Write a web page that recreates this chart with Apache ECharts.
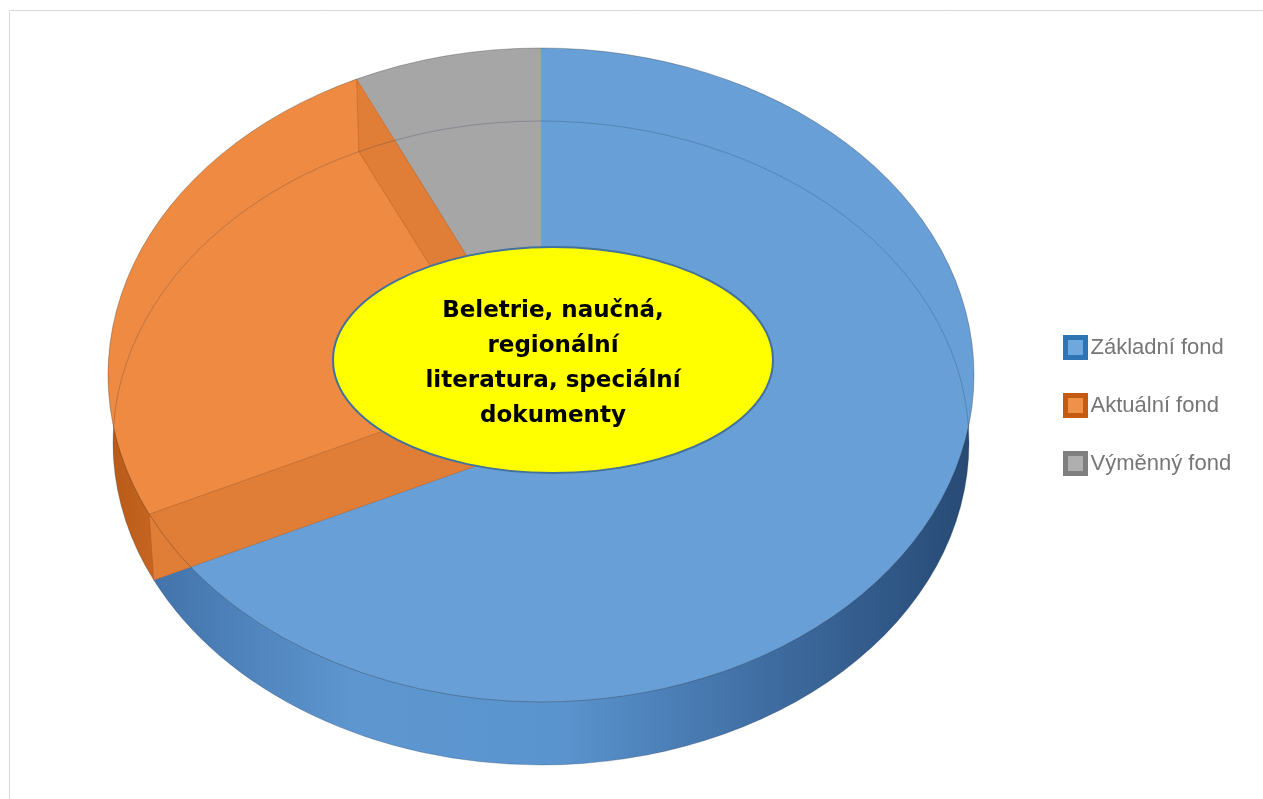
<!DOCTYPE html>
<html>
<head>
<meta charset="utf-8">
<script src="https://cdn.jsdelivr.net/npm/echarts@6/dist/echarts.min.js"></script>
<style>
html,body{margin:0;padding:0;background:#fff;}
#main{width:1263px;height:799px;}
</style>
</head>
<body>
<div id="main"></div>
<script>
// ---- data ----
const categories = ['Základní fond', 'Aktuální fond', 'Výměnný fond'];
const values = [68, 25, 7];
const centerLabel = 'Beletrie, naučná,\nregionální\nliteratura, speciální\ndokumenty';

// ---- styling ----
const topColors = ['#679FD6', '#EE8A41', '#A6A6A6'];
const wallColors = [
  ['#4373AA', '#5E97D0', '#5A94CE', '#3F6DA2', '#274A75'],
  ['#B95A18', '#D9772F', '#E0813A', '#D9772F', '#C0641F'],
  ['#8A8A8A', '#9C9C9C', '#A0A0A0', '#9C9C9C', '#8A8A8A']
];
const legendOuter = ['#2E75B6', '#C55A11', '#7F7F7F'];
const legendInner = ['#6FA8DC', '#F0914A', '#AFAFAF'];

const CX = 541, CY = 375, RX = 433, RY = 327;
const CYB = 443, RXB = 428, RYB = 322;

const total = values.reduce((a, b) => a + b, 0);
function angleOf(frac) { return -Math.PI / 2 + frac * Math.PI * 2; }

function renderSlice(params, api) {
  const i = params.seriesIndex;
  const v = api.value(0);
  let before = 0;
  for (let k = 0; k < i; k++) before += values[k];
  const a0 = angleOf(before / total);
  const a1 = angleOf((before + v) / total);
  const stops = wallColors[i].map((c, j, arr) => ({ offset: j / (arr.length - 1), color: c }));
  const children = [
    { // bottom face / wall
      type: 'sector', z2: 1,
      shape: { cx: CX, cy: CYB, r: RXB, r0: 0, startAngle: a0, endAngle: a1, clockwise: true },
      originX: CX, originY: CYB, scaleY: RYB / RXB,
      style: { fill: new echarts.graphic.LinearGradient(0, 0, 1, 0, stops) }
    },
    { // top face
      type: 'sector', z2: 5,
      shape: { cx: CX, cy: CY, r: RX, r0: 0, startAngle: a0, endAngle: a1, clockwise: true },
      originX: CX, originY: CY, scaleY: RY / RX,
      style: { fill: topColors[i] }
    },
    { // faint bottom edge seen through
      type: 'arc', z2: 8,
      shape: { cx: CX, cy: CYB, r: RXB, startAngle: a0, endAngle: a1, clockwise: true },
      originX: CX, originY: CYB, scaleY: RYB / RXB,
      style: { stroke: 'rgba(30,50,80,0.28)', lineWidth: 1, fill: null, strokeNoScale: true }
    },
    { // top outer edge
      type: 'arc', z2: 9,
      shape: { cx: CX, cy: CY, r: RX, startAngle: a0, endAngle: a1, clockwise: true },
      originX: CX, originY: CY, scaleY: RY / RX,
      style: { stroke: 'rgba(40,40,40,0.35)', lineWidth: 1, fill: null, strokeNoScale: true }
    }
  ];
  if (i === 1) {
    [a0, a1].forEach(function (a) {
      const c = Math.cos(a), s = Math.sin(a);
      children.push({
        type: 'polygon', z2: 7,
        shape: { points: [
          [CX, CY], [CX + RX * c, CY + RY * s],
          [CX + RXB * c, CYB + RYB * s], [CX, CYB]
        ] },
        style: { fill: '#E07D36', stroke: 'rgba(170,80,20,0.35)', lineWidth: 1 }
      });
    });
  }
  return { type: 'group', children: children };
}

const chart = echarts.init(document.getElementById('main'), null, { renderer: 'canvas' });

const series = categories.map(function (name, i) {
  return {
    name: name,
    type: 'custom',
    coordinateSystem: 'none',
    renderItem: renderSlice,
    data: [[values[i]]],
    itemStyle: { color: topColors[i] },
    silent: true,
    animation: false
  };
});

chart.setOption({
  animation: false,
  backgroundColor: '#ffffff',
  legend: {
    orient: 'vertical',
    left: 1063,
    top: 335,
    padding: 0,
    itemWidth: 20,
    itemHeight: 20,
    itemGap: 33,
    icon: 'rect',
    selectedMode: false,
    textStyle: { fontFamily: 'Liberation Sans', fontSize: 22, color: '#767676' },
    data: categories.map(function (n, i) {
      return { name: n, itemStyle: { color: legendInner[i], borderColor: legendOuter[i], borderWidth: 5 } };
    })
  },
  graphic: [
    {
      type: 'rect', z: -10, silent: true,
      shape: { x: 9.5, y: 10.5, width: 1400, height: 900 },
      style: { fill: null, stroke: '#D9D9D9', lineWidth: 1 }
    },
    {
      type: 'ellipse', z: 100, silent: true,
      shape: { cx: 553, cy: 360, rx: 220, ry: 113 },
      style: { fill: '#FFFF00', stroke: '#41719C', lineWidth: 2 }
    },
    {
      type: 'text', z: 101, silent: true,
      x: 553, y: 364,
      style: {
        text: centerLabel,
        fill: '#000000',
        fontFamily: 'DejaVu Sans',
        fontWeight: 'bold',
        fontSize: 23,
        lineHeight: 35,
        align: 'center',
        verticalAlign: 'middle'
      }
    }
  ],
  series: series
});
</script>
</body>
</html>
